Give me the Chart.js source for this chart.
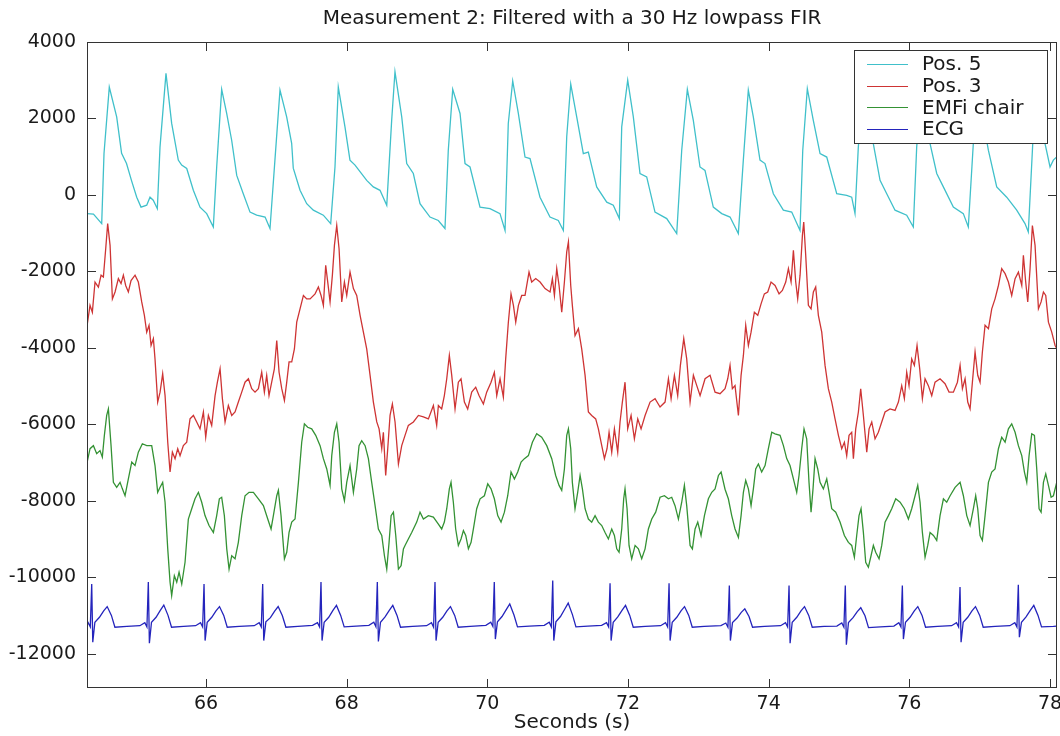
<!DOCTYPE html>
<html>
<head>
<meta charset="utf-8">
<title>Measurement 2</title>
<script src="https://cdn.jsdelivr.net/npm/chart.js@4.4.0/dist/chart.umd.min.js"></script>
<style>
  html, body { margin: 0; padding: 0; background: #fff; }
  #wrap { width: 1060px; height: 736px; }
</style>
</head>
<body>
<div id="wrap"><canvas id="measChart" width="1060" height="736"></canvas></div>
<script>
// ── Axis setup ──
var titleText = 'Measurement 2: Filtered with a 30 Hz lowpass FIR';
var xLabel = 'Seconds (s)';
var xMin = 64.308, xMax = 78.10;
var yMin = -12900, yMax = 4000;
var xTicks = [66, 68, 70, 72, 74, 76, 78];
var yTicks = [-12000, -10000, -8000, -6000, -4000, -2000, 0, 2000, 4000];
var seriesNames = ['Pos. 5', 'Pos. 3', 'EMFi chair', 'ECG'];
var seriesColors = ['rgb(64,192,202)', 'rgb(206,52,52)', 'rgb(52,146,52)', 'rgb(36,36,188)'];

// ── Pos. 5 ──
var pos5T = [64.310,64.400,64.517,64.550,64.625,64.730,64.800,64.870,64.940,65.015,65.076,65.157,65.204,65.250,65.308,
  65.346,65.431,65.512,65.606,65.654,65.726,65.820,65.915,66.010,66.104,66.152,66.223,66.294,66.365,66.437,
  66.530,66.626,66.720,66.840,66.910,66.980,67.052,67.147,67.218,67.241,67.337,67.432,67.526,67.668,67.773,
  67.834,67.881,67.976,68.047,68.119,68.285,68.379,68.474,68.570,68.640,68.687,68.783,68.854,68.948,69.043,
  69.185,69.303,69.398,69.445,69.508,69.612,69.683,69.754,69.896,70.038,70.180,70.252,70.298,70.361,70.441,
  70.536,70.607,70.749,70.891,71.009,71.081,71.129,71.186,71.271,71.365,71.436,71.555,71.698,71.791,71.877,
  71.911,71.996,72.076,72.171,72.266,72.384,72.551,72.693,72.764,72.844,72.929,73.024,73.095,73.213,73.333,
  73.451,73.569,73.640,73.711,73.782,73.877,73.948,74.067,74.209,74.328,74.446,74.485,74.550,74.635,74.731,
  74.826,74.968,75.110,75.181,75.228,75.275,75.342,75.488,75.584,75.679,75.797,75.963,76.057,76.105,76.167,
  76.295,76.390,76.484,76.626,76.768,76.839,76.910,76.977,77.124,77.243,77.385,77.527,77.645,77.692,77.755,
  77.816,77.930,78.001,78.048,78.100];
var pos5V = [-490,-500,-750,1090,2820,2040,1090,820,380,-60,-320,-270,-60,-140,-360,
  1250,3180,1870,910,780,690,120,-320,-490,-840,730,2760,2130,1430,510,
  30,-450,-530,-580,-880,910,2740,2040,1350,700,120,-230,-400,-530,-750,
  730,2820,1780,910,780,380,210,120,-270,1950,3220,2040,820,560,-230,
  -580,-670,-880,1170,2760,2130,820,730,-320,-360,-490,-930,1870,2980,2130,
  990,950,-60,-580,-670,-930,1520,2900,2040,1080,1120,210,-190,-270,-620,
  1780,3000,2040,560,470,-450,-620,-1010,1170,2760,1950,730,640,-320,-490,
  -580,-1010,910,2740,2040,910,820,30,-400,-450,-930,1170,2780,1950,1080,
  990,30,-10,-60,-490,1250,2700,1340,380,30,-400,-530,-840,1250,2700,
  1340,560,210,-320,-490,-840,1340,2700,1170,210,-60,-400,-750,-970,1340,
  2600,1340,730,910,1000];

// ── Pos. 3 ──
var pos3T = [64.310,64.351,64.384,64.422,64.470,64.508,64.541,64.574,64.602,64.636,64.669,64.707,64.754,64.792,64.825,
  64.858,64.896,64.934,64.991,65.038,65.086,65.124,65.157,65.190,65.219,65.252,65.275,65.313,65.347,65.384,
  65.418,65.456,65.489,65.522,65.560,65.598,65.631,65.678,65.726,65.773,65.821,65.868,65.915,65.963,65.996,
  66.034,66.081,66.129,66.162,66.200,66.233,66.271,66.318,66.366,66.413,66.460,66.508,66.555,66.603,66.650,
  66.697,66.745,66.792,66.830,66.863,66.896,66.934,66.972,67.006,67.039,67.077,67.115,67.148,67.181,67.219,
  67.257,67.290,67.337,67.385,67.432,67.480,67.551,67.598,67.636,67.669,67.702,67.731,67.764,67.797,67.826,
  67.859,67.892,67.930,67.968,68.001,68.048,68.096,68.143,68.191,68.238,68.285,68.333,68.380,68.428,68.461,
  68.499,68.522,68.555,68.584,68.617,68.650,68.688,68.736,68.783,68.830,68.877,68.949,69.020,69.091,69.162,
  69.233,69.280,69.304,69.351,69.389,69.423,69.460,69.494,69.541,69.588,69.626,69.674,69.721,69.778,69.835,
  69.882,69.944,69.991,70.053,70.100,70.134,70.181,70.228,70.261,70.299,70.337,70.371,70.404,70.442,70.489,
  70.536,70.593,70.631,70.688,70.750,70.821,70.892,70.925,70.954,70.987,71.020,71.058,71.096,71.129,71.153,
  71.186,71.209,71.247,71.295,71.342,71.390,71.437,71.484,71.541,71.579,71.627,71.665,71.702,71.731,71.769,
  71.807,71.854,71.887,71.920,71.958,71.996,72.044,72.091,72.139,72.186,72.243,72.314,72.385,72.456,72.527,
  72.575,72.613,72.660,72.707,72.745,72.793,72.835,72.883,72.930,72.978,73.025,73.096,73.167,73.238,73.309,
  73.380,73.418,73.451,73.484,73.522,73.570,73.608,73.641,73.674,73.712,73.750,73.797,73.845,73.892,73.939,
  73.987,74.034,74.091,74.148,74.195,74.243,74.281,74.319,74.352,74.385,74.413,74.447,74.480,74.499,74.527,
  74.565,74.603,74.636,74.669,74.707,74.755,74.802,74.849,74.897,74.944,74.992,75.039,75.077,75.110,75.143,
  75.181,75.205,75.238,75.276,75.309,75.347,75.395,75.428,75.466,75.513,75.560,75.608,75.655,75.726,75.797,
  75.845,75.892,75.930,75.963,75.996,76.034,76.072,76.110,76.148,76.186,76.224,76.271,76.319,76.366,76.437,
  76.508,76.565,76.627,76.684,76.722,76.755,76.793,76.831,76.864,76.897,76.935,76.973,77.006,77.039,77.077,
  77.125,77.172,77.219,77.267,77.314,77.362,77.409,77.456,77.504,77.551,77.599,77.622,77.655,77.684,77.717,
  77.750,77.788,77.836,77.874,77.907,77.940,77.978,78.025,78.073,78.100];
var pos3V = [-3410,-2890,-3070,-2280,-2410,-2100,-2150,-1410,-750,-1320,-2720,-2540,-2190,-2320,-2100,
  -2370,-2540,-2240,-2100,-2280,-2800,-3150,-3590,-3410,-3940,-3760,-4290,-5420,-5160,-4680,
  -5250,-6470,-7250,-6730,-6900,-6640,-6820,-6560,-6470,-5860,-5770,-5940,-6120,-5680,-6340,
  -5770,-6030,-5250,-4900,-4550,-5330,-5940,-5510,-5770,-5680,-5420,-5160,-4900,-4810,-5070,
  -5160,-5070,-4640,-5160,-4720,-5250,-4900,-4550,-3810,-4640,-5070,-5380,-4900,-4370,-4370,
  -4030,-3330,-2980,-2630,-2720,-2720,-2590,-2410,-2630,-2890,-1840,-2280,-2800,-2100,-1320,
  -800,-1410,-2800,-2280,-2630,-2020,-2450,-2630,-3150,-3590,-4030,-4720,-5420,-5940,-6120,
  -6640,-6210,-7340,-6640,-5770,-5470,-5940,-7040,-6560,-6290,-6030,-5940,-5770,-5810,-5860,
  -5510,-6030,-5510,-5600,-5250,-4810,-4200,-4720,-5600,-4900,-4810,-5420,-5600,-5160,-5030,
  -5250,-5470,-5160,-4900,-4640,-5250,-4810,-5290,-4290,-3330,-2590,-2890,-3330,-2890,-2630,
  -2630,-2020,-2280,-2190,-2280,-2450,-2540,-2190,-2630,-1930,-2370,-3070,-2280,-1490,-1230,
  -2370,-2890,-3680,-3500,-4030,-4720,-5680,-5770,-5860,-6120,-6560,-6900,-6640,-6210,-6730,
  -6120,-6730,-5940,-5420,-4900,-6120,-5770,-6380,-5860,-6120,-5770,-5420,-5330,-5550,-5420,
  -4810,-5330,-4720,-5250,-4460,-3760,-4290,-5420,-4720,-4990,-5250,-4810,-4720,-5160,-5200,
  -5070,-4810,-4460,-5070,-4990,-5770,-4720,-4200,-3410,-3940,-3590,-3070,-3150,-2850,-2590,
  -2540,-2280,-2370,-2590,-2500,-2280,-1930,-2280,-1450,-2280,-2720,-2100,-1060,-710,-1580,
  -2890,-2980,-2540,-2410,-3150,-3590,-4460,-5070,-5420,-5860,-6290,-6640,-6470,-6820,-6290,
  -6210,-6900,-6120,-5680,-5070,-5770,-6730,-6120,-5940,-6380,-6210,-5940,-5680,-5600,-5640,
  -5420,-4990,-5330,-4640,-4990,-4290,-4460,-3940,-4550,-5330,-4810,-4990,-5250,-4900,-4810,
  -4940,-5160,-5160,-4900,-4460,-5070,-4810,-5420,-5600,-4900,-4110,-4720,-4900,-4110,-3410,
  -3500,-2980,-2720,-2370,-1930,-2060,-2280,-2630,-2190,-2020,-2370,-1580,-2280,-2800,-1930,
  -800,-1320,-2980,-2800,-2540,-2630,-3330,-3590,-3940,-4030];

// ── EMFi chair ──
var emfiT = [64.310,64.351,64.399,64.446,64.493,64.526,64.555,64.588,64.612,64.650,64.683,64.730,64.778,64.811,64.849,
  64.896,64.944,64.991,65.038,65.095,65.157,65.228,65.275,65.313,65.347,65.384,65.418,65.456,65.489,65.512,
  65.550,65.584,65.617,65.655,65.702,65.749,65.797,65.844,65.892,65.939,65.986,66.043,66.105,66.152,66.190,
  66.223,66.261,66.295,66.328,66.366,66.413,66.460,66.508,66.555,66.612,66.674,66.745,66.816,66.878,66.925,
  66.958,67.006,67.029,67.067,67.115,67.148,67.181,67.219,67.266,67.314,67.361,67.399,67.446,67.503,67.560,
  67.622,67.669,67.717,67.764,67.788,67.826,67.859,67.892,67.930,67.968,68.001,68.048,68.096,68.143,68.176,
  68.214,68.262,68.309,68.356,68.404,68.451,68.499,68.537,68.570,68.603,68.632,68.665,68.698,68.736,68.774,
  68.807,68.830,68.877,68.925,68.996,69.043,69.091,69.162,69.233,69.304,69.351,69.389,69.423,69.460,69.484,
  69.517,69.550,69.588,69.626,69.660,69.693,69.731,69.769,69.802,69.849,69.897,69.958,70.006,70.053,70.100,
  70.148,70.195,70.243,70.290,70.337,70.385,70.432,70.480,70.527,70.584,70.641,70.702,70.773,70.845,70.916,
  70.972,71.020,71.058,71.096,71.129,71.153,71.186,71.209,71.247,71.285,71.319,71.352,71.390,71.437,71.484,
  71.532,71.579,71.627,71.674,71.721,71.769,71.807,71.840,71.873,71.911,71.939,71.958,71.987,72.015,72.053,
  72.101,72.148,72.195,72.243,72.290,72.338,72.394,72.456,72.518,72.575,72.622,72.669,72.717,72.764,72.802,
  72.835,72.883,72.916,72.954,72.992,73.039,73.087,73.143,73.191,73.238,73.286,73.324,73.380,73.427,73.475,
  73.522,73.570,73.608,73.641,73.674,73.712,73.750,73.783,73.816,73.854,73.901,73.949,73.996,74.044,74.091,
  74.162,74.210,74.257,74.304,74.352,74.399,74.432,74.470,74.503,74.541,74.574,74.603,74.631,74.660,74.698,
  74.731,74.778,74.826,74.859,74.897,74.954,75.015,75.077,75.134,75.181,75.219,75.252,75.285,75.314,75.347,
  75.380,75.418,75.456,75.489,75.522,75.570,75.608,75.655,75.703,75.750,75.807,75.869,75.930,75.987,76.034,
  76.082,76.120,76.153,76.186,76.224,76.262,76.295,76.343,76.390,76.437,76.485,76.532,76.580,76.651,76.722,
  76.769,76.817,76.864,76.911,76.944,76.973,77.006,77.039,77.077,77.125,77.172,77.219,77.267,77.314,77.362,
  77.409,77.456,77.504,77.551,77.599,77.637,77.670,77.703,77.741,77.779,77.812,77.845,77.874,77.907,77.940,
  77.978,78.016,78.049,78.096];
var emfiV = [-6990,-6640,-6560,-6770,-6690,-6860,-6290,-5770,-5600,-6560,-7520,-7650,-7520,-7690,-7870,
  -7430,-6990,-7080,-6730,-6510,-6560,-6560,-7080,-7780,-7650,-7520,-8040,-9260,-10130,-10480,
  -9960,-10130,-9870,-10180,-9610,-8480,-8210,-7950,-7780,-8040,-8390,-8650,-8830,-8390,-7950,
  -7910,-8390,-9260,-9790,-9440,-9520,-9090,-8390,-7870,-7780,-7780,-7950,-8130,-8480,-8740,
  -8390,-7870,-7730,-8390,-9520,-9350,-8830,-8560,-8480,-7520,-6470,-5990,-6080,-6120,-6290,
  -6560,-6900,-7170,-7600,-6820,-6210,-5990,-6470,-7690,-8000,-7520,-7080,-7780,-7170,-6560,
  -6430,-6560,-6900,-7520,-8130,-8740,-8910,-9440,-9790,-9090,-8390,-8300,-8910,-9790,-9700,
  -9260,-9170,-9000,-8830,-8560,-8300,-8480,-8390,-8430,-8610,-8740,-8560,-8210,-7690,-7520,
  -8040,-8740,-9170,-9000,-8780,-8910,-9260,-9090,-8740,-8210,-7950,-7870,-7560,-7690,-7950,
  -8390,-8560,-8300,-7870,-7250,-7430,-7250,-6990,-6900,-6820,-6470,-6250,-6340,-6560,-6900,
  -7340,-7600,-7730,-7170,-6290,-6120,-6640,-7520,-8210,-7780,-7340,-7690,-8210,-8480,-8560,
  -8390,-8560,-8650,-8830,-9000,-8740,-8910,-9260,-9350,-8740,-7950,-7690,-8210,-9170,-9520,
  -9170,-9260,-9520,-9260,-8740,-8480,-8300,-7910,-7870,-7950,-7910,-8130,-8480,-8040,-7600,
  -8130,-9170,-9260,-8740,-8560,-8910,-8390,-7950,-7780,-7690,-7340,-7250,-7700,-7950,-8390,
  -8740,-8960,-8390,-7780,-7470,-7690,-8130,-7690,-7170,-7040,-7250,-7080,-6640,-6210,-6250,
  -6290,-6560,-6900,-7080,-7430,-7780,-7340,-6640,-6120,-6380,-7520,-8300,-7690,-6900,-7170,
  -7520,-7690,-7430,-7780,-8210,-8300,-8560,-8910,-9090,-9170,-9480,-8910,-8390,-8210,-8830,
  -9610,-9740,-9440,-9170,-9350,-9520,-9170,-8560,-8390,-8210,-7950,-8040,-8210,-8480,-8210,
  -7870,-7600,-8040,-8830,-9480,-9170,-8830,-8910,-9040,-8390,-7950,-8040,-7870,-7650,-7520,
  -7870,-8390,-8650,-8210,-7870,-8210,-8910,-9040,-8390,-7520,-7250,-7170,-6640,-6340,-6470,
  -6120,-5990,-6210,-6560,-6820,-7250,-7520,-6820,-6250,-6290,-7170,-8210,-8300,-7520,-7300,
  -7600,-7910,-7870,-7520];

// ── ECG ──
var ecgT = [64.310,64.325,64.355,64.375,64.390,64.420,64.485,64.545,64.595,64.655,64.705,64.875,
  65.060,65.130,65.160,65.180,65.195,65.225,65.290,65.350,65.400,65.460,65.510,65.680,
  65.852,65.922,65.952,65.972,65.987,66.017,66.082,66.142,66.192,66.252,66.302,66.472,
  66.686,66.756,66.786,66.806,66.821,66.851,66.916,66.976,67.026,67.086,67.136,67.306,
  67.515,67.585,67.615,67.635,67.650,67.680,67.745,67.805,67.855,67.915,67.965,68.135,
  68.316,68.386,68.416,68.436,68.451,68.481,68.546,68.606,68.656,68.716,68.766,68.936,
  69.136,69.206,69.236,69.256,69.271,69.301,69.366,69.426,69.476,69.536,69.586,69.756,
  69.979,70.049,70.079,70.099,70.114,70.144,70.209,70.269,70.319,70.379,70.429,70.599,
  70.810,70.880,70.910,70.930,70.945,70.975,71.040,71.100,71.150,71.210,71.260,71.430,
  71.625,71.695,71.725,71.745,71.760,71.790,71.855,71.915,71.965,72.025,72.075,72.245,
  72.464,72.534,72.564,72.584,72.599,72.629,72.694,72.754,72.804,72.864,72.914,73.084,
  73.321,73.391,73.421,73.441,73.456,73.486,73.551,73.611,73.661,73.721,73.771,73.941,
  74.170,74.240,74.270,74.290,74.305,74.335,74.400,74.460,74.510,74.570,74.620,74.790,
  74.970,75.040,75.070,75.090,75.105,75.135,75.200,75.260,75.310,75.370,75.420,75.590,
  75.781,75.851,75.881,75.901,75.916,75.946,76.011,76.071,76.121,76.181,76.231,76.401,
  76.601,76.671,76.701,76.721,76.736,76.766,76.831,76.891,76.941,77.001,77.051,77.221,
  77.430,77.500,77.530,77.550,77.565,77.595,77.660,77.720,77.770,77.830,77.880,78.050,78.100];
var ecgV = [-11250,-11190,-11300,-10180,-11700,-11180,-11050,-10880,-10770,-11000,-11310,-11290,
  -11270,-11190,-11300,-10130,-11730,-11180,-11050,-10870,-10730,-11000,-11310,-11290,
  -11270,-11190,-11300,-10180,-11660,-11180,-11050,-10880,-10770,-11000,-11310,-11290,
  -11270,-11190,-11300,-10180,-11660,-11170,-11060,-10890,-10770,-11010,-11310,-11290,
  -11260,-11190,-11300,-10130,-11660,-11180,-11050,-10870,-10740,-11000,-11300,-11280,
  -11260,-11180,-11300,-10130,-11680,-11180,-11040,-10870,-10740,-11000,-11310,-11290,
  -11270,-11190,-11310,-10130,-11660,-11180,-11050,-10880,-10770,-11000,-11310,-11290,
  -11260,-11180,-11290,-10130,-11620,-11170,-11030,-10850,-10700,-10990,-11300,-11280,
  -11260,-11180,-11300,-10090,-11660,-11170,-11030,-10840,-10680,-10980,-11300,-11280,
  -11260,-11190,-11300,-10160,-11660,-11180,-11040,-10870,-10740,-11000,-11310,-11290,
  -11270,-11190,-11300,-10160,-11660,-11180,-11050,-10880,-10770,-11000,-11310,-11290,
  -11270,-11200,-11310,-10220,-11660,-11190,-11070,-10920,-10830,-11030,-11310,-11290,
  -11270,-11190,-11300,-10220,-11730,-11180,-11050,-10880,-10770,-11000,-11310,-11290,
  -11280,-11200,-11310,-10220,-11770,-11190,-11060,-10900,-10800,-11010,-11320,-11300,
  -11280,-11190,-11300,-10220,-11620,-11180,-11050,-10880,-10770,-11000,-11310,-11290,
  -11270,-11190,-11300,-10260,-11700,-11180,-11050,-10880,-10770,-11000,-11310,-11290,
  -11270,-11190,-11300,-10200,-11570,-11180,-11040,-10870,-10740,-11000,-11300,-11290,-11280];

document.addEventListener('DOMContentLoaded', function() {
    var fontFamily = '"DejaVu Sans", "Liberation Sans", sans-serif';
    var textColor = '#1a1a1a';

    function pairs(ts, vs) {
        return ts.map(function(t, i) { return { x: t, y: vs[i] }; });
    }

    // ── Frame, inward ticks, title and boxed legend (MATLAB look) ──
    var matlabFrame = {
        id: 'matlabFrame',
        afterDatasetsDraw: function(chart) {
            var ctx = chart.ctx, a = chart.chartArea, sx = chart.scales.x, sy = chart.scales.y;
            ctx.save();
            ctx.strokeStyle = '#333';
            ctx.lineWidth = 1;
            ctx.strokeRect(a.left + 0.5, a.top + 0.5, a.right - a.left - 1, a.bottom - a.top - 1);
            ctx.beginPath();
            xTicks.forEach(function(v) {
                var x = Math.round(sx.getPixelForValue(v)) + 0.5;
                ctx.moveTo(x, a.bottom); ctx.lineTo(x, a.bottom - 9);
                ctx.moveTo(x, a.top); ctx.lineTo(x, a.top + 9);
            });
            yTicks.forEach(function(v) {
                var y = Math.round(sy.getPixelForValue(v)) + 0.5;
                ctx.moveTo(a.left, y); ctx.lineTo(a.left + 9, y);
                ctx.moveTo(a.right, y); ctx.lineTo(a.right - 9, y);
            });
            ctx.stroke();

            // title
            ctx.fillStyle = textColor;
            ctx.font = '20px ' + fontFamily;
            ctx.textAlign = 'center';
            ctx.textBaseline = 'middle';
            ctx.fillText(titleText, (a.left + a.right) / 2, 19);

            // legend box, top right inside the axes
            var bx = a.right - 203, by = a.top + 8, bw = 193, bh = 93;
            ctx.fillStyle = '#fff';
            ctx.fillRect(bx, by, bw, bh);
            ctx.strokeStyle = '#333';
            ctx.strokeRect(bx + 0.5, by + 0.5, bw, bh);
            ctx.textAlign = 'left';
            ctx.font = '20px ' + fontFamily;
            chart.data.datasets.forEach(function(ds, i) {
                var y = by + 14 + i * 21.7;
                ctx.strokeStyle = ds.borderColor;
                ctx.lineWidth = 1.2;
                ctx.beginPath();
                ctx.moveTo(bx + 13, Math.round(y) + 0.5);
                ctx.lineTo(bx + 54, Math.round(y) + 0.5);
                ctx.stroke();
                ctx.fillStyle = textColor;
                ctx.fillText(ds.label, bx + 68, y + 1);
            });
            ctx.restore();
        }
    };

    var tickFont = { family: fontFamily, size: 19 };
    var ctx = document.getElementById('measChart');
    new Chart(ctx.getContext('2d'), {
        type: 'line',
        data: {
            datasets: [
                { label: seriesNames[0], data: pairs(pos5T, pos5V), borderColor: seriesColors[0], order: 4 },
                { label: seriesNames[1], data: pairs(pos3T, pos3V), borderColor: seriesColors[1], order: 3 },
                { label: seriesNames[2], data: pairs(emfiT, emfiV), borderColor: seriesColors[2], order: 2 },
                { label: seriesNames[3], data: pairs(ecgT, ecgV), borderColor: seriesColors[3], order: 1 }
            ]
        },
        options: {
            responsive: false,
            animation: false,
            layout: { padding: { top: 42, right: 3, bottom: 0, left: 0 } },
            elements: { point: { radius: 0 }, line: { borderWidth: 1.3, tension: 0, fill: false } },
            plugins: { legend: { display: false }, title: { display: false }, tooltip: { enabled: false } },
            scales: {
                x: {
                    type: 'linear', min: xMin, max: xMax,
                    afterBuildTicks: function(s) { s.ticks = xTicks.map(function(v) { return { value: v }; }); },
                    afterFit: function(s) { s.height = 48; s.paddingLeft = 0; s.paddingRight = 0; },
                    grid: { display: false, drawTicks: false },
                    border: { display: false },
                    ticks: { font: tickFont, color: textColor, padding: 5, maxRotation: 0, autoSkip: false,
                             callback: function(v) { return String(v); } },
                    title: { display: true, text: xLabel, color: textColor,
                             font: { family: fontFamily, size: 20 }, padding: { top: 0, bottom: 1 } }
                },
                y: {
                    type: 'linear', min: yMin, max: yMax,
                    afterBuildTicks: function(s) { s.ticks = yTicks.map(function(v) { return { value: v }; }); },
                    afterFit: function(s) { s.width = 87; s.paddingTop = 0; s.paddingBottom = 0; },
                    grid: { display: false, drawTicks: false },
                    border: { display: false },
                    ticks: { font: tickFont, color: textColor, padding: 11, autoSkip: false,
                             callback: function(v) { return String(v); } }
                }
            }
        },
        plugins: [matlabFrame]
    });
});
</script>
</body>
</html>
